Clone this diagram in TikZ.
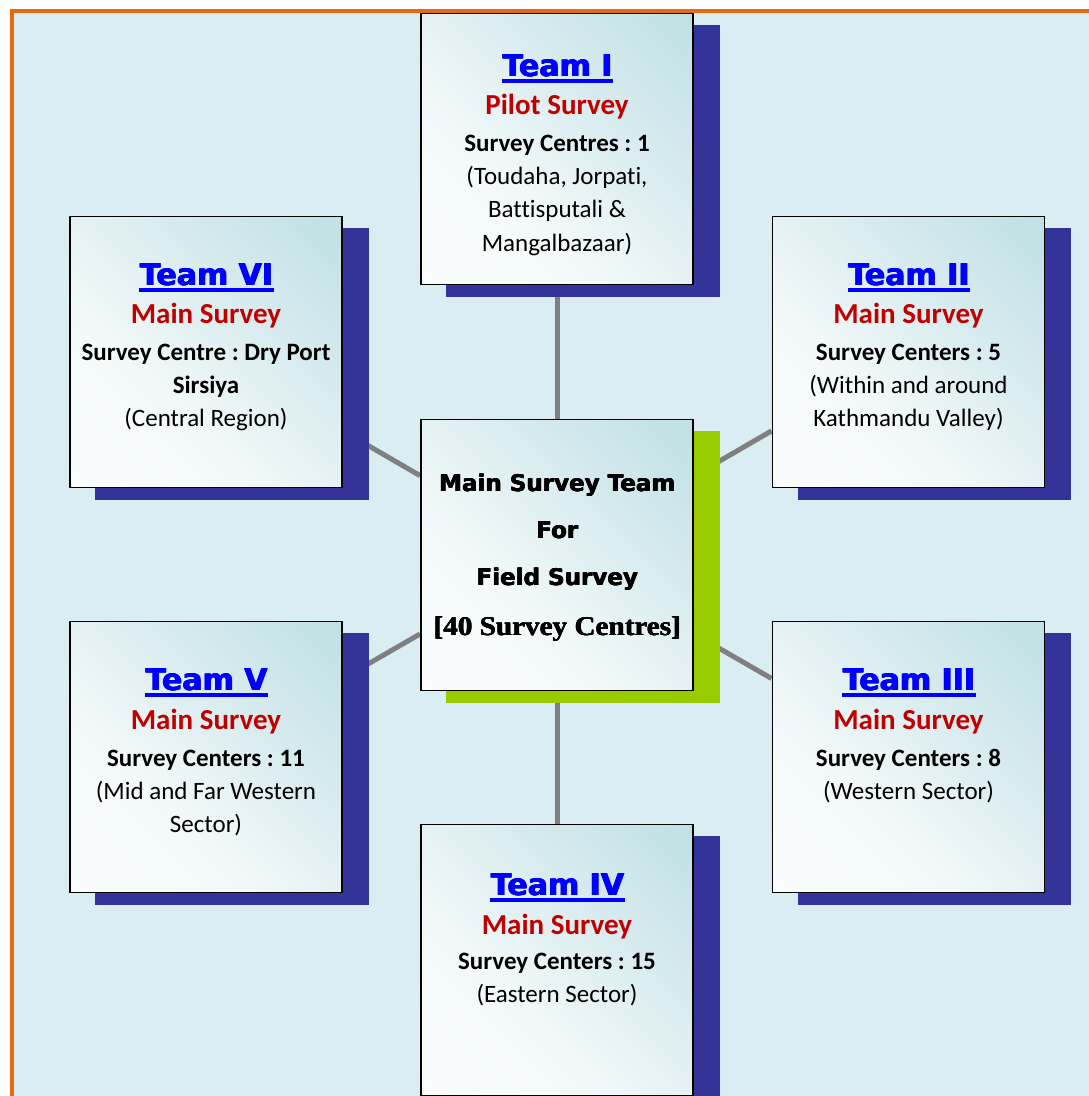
\documentclass[tikz,border=0pt]{standalone}
\usepackage{fontspec}
\setmainfont{Carlito}[Ligatures=NoCommon]
\newfontfamily\dvb{DejaVu Sans Bold}
\newfontfamily\lserifb{Liberation Serif Bold}[FakeStretch=1.08]
\frenchspacing
\newcommand\heavytxt[2]{\leavevmode\rlap{\kern#1\hbox{#2}}\rlap{\kern0.5\dimexpr#1\relax\raise0.5\dimexpr#1\relax\hbox{#2}}\rlap{\kern0.5\dimexpr#1\relax\lower0.3\dimexpr#1\relax\hbox{#2}}#2}
\pgfdeclarelayer{bg}
\pgfdeclarelayer{shad}
\pgfsetlayers{bg,shad,main}
\definecolor{bgblue}{RGB}{218,237,243}
\definecolor{frameorange}{RGB}{228,108,10}
\definecolor{shadowblue}{RGB}{51,51,153}
\definecolor{shadowgreen}{RGB}{153,204,0}
\definecolor{linkgray}{RGB}{128,128,128}
\definecolor{tblue}{RGB}{0,0,255}
\definecolor{tred}{RGB}{192,0,0}
\definecolor{teal1}{RGB}{178,218,223}
\definecolor{teal2}{RGB}{192,225,229}
\definecolor{teal3}{RGB}{215,235,238}
\definecolor{teal4}{RGB}{243,249,250}
\pgfdeclareverticalshading{boxshade}{100bp}{color(0bp)=(white); color(38bp)=(teal4); color(62bp)=(teal3); color(84bp)=(teal2); color(100bp)=(teal1)}
\tikzset{
  box/.style={draw=black, line width=1.8pt, rectangle, minimum width=272pt, minimum height=271pt,
    shading=boxshade, shading angle=-45, inner sep=0pt},
  ln/.style={anchor=base, inner sep=0pt, outer sep=0pt},
  ttl/.style={ln, text=tblue, font=\dvb\fontsize{30}{36}\selectfont},
  sub/.style={ln, text=tred, font=\bfseries\fontsize{29}{35}\selectfont},
  bd/.style={ln, font=\bfseries\fontsize{25}{30}\selectfont},
  rg/.style={ln, font=\fontsize{25}{30}\selectfont},
  ctr/.style={ln, font=\dvb\fontsize{23}{27}\selectfont},
  ctrs/.style={ln, font=\lserifb\fontsize{27}{32}\selectfont},
  link/.style={draw=linkgray, line width=5pt},
  uline/.style={draw=tblue, line width=4pt},
}
\newcommand\shadowof[2]{%
  \begin{pgfonlayer}{shad}
  \fill[#2] ([xshift=26pt,yshift=-12pt]#1.south west) rectangle ([xshift=26pt,yshift=-12pt]#1.north east);
  \end{pgfonlayer}}
\newcommand\ulineof[1]{\draw[uline] ([yshift=-4pt]#1.base west) -- ([xshift=1pt,yshift=-4pt]#1.base east);}
\newcommand\ttlheavy[1]{\heavytxt{1.2pt}{#1}}
\newcommand\ctrheavy[1]{\heavytxt{0.7pt}{#1}}
\begin{document}
\begin{tikzpicture}[x=1pt,y=-1pt]
\useasboundingbox (0,0) rectangle (1088,1096);
\begin{pgfonlayer}{bg}
\fill[white] (0,0) rectangle (1088,1096);
\draw[frameorange, line width=4pt, fill=bgblue] (12,11) rectangle (1120,1120);
\end{pgfonlayer}

% boxes
\node[box] (t1) at (557,149) {};
\node[box] (t6) at (206,352) {};
\node[box] (t2) at (908.5,352) {};
\node[box] (c) at (557,555) {};
\node[box] (t5) at (206,757) {};
\node[box] (t3) at (908.5,757) {};
\node[box] (t4) at (557,960) {};

% shadows
\shadowof{t1}{shadowblue}
\shadowof{t6}{shadowblue}
\shadowof{t2}{shadowblue}
\shadowof{c}{shadowgreen}
\shadowof{t5}{shadowblue}
\shadowof{t3}{shadowblue}
\shadowof{t4}{shadowblue}

% connectors
\begin{pgfonlayer}{bg}
\draw[link] (c) -- (t1);
\draw[link] (c) -- (t2);
\draw[link] (c) -- (t3);
\draw[link] (c) -- (t4);
\draw[link] (c) -- (t5);
\draw[link] (c) -- (t6);
\end{pgfonlayer}

% Team I
\node[ttl] (t1a) at ([yshift=-64pt]t1.north) {\ttlheavy{Team I}};
\ulineof{t1a}
\node[sub] (t1b) at ([yshift=-102pt]t1.north) {Pilot Survey};
\node[bd]  (t1c) at ([yshift=-139pt]t1.north) {Survey Centres : 1};
\node[rg]  (t1d) at ([yshift=-172pt]t1.north) {(Toudaha, Jorpati,};
\node[rg]  (t1e) at ([yshift=-205pt]t1.north) {Battisputali \&};
\node[rg]  (t1f) at ([yshift=-239pt]t1.north) {Mangalbazaar)};

% Team VI
\node[ttl] (t6a) at ([yshift=-70pt]t6.north) {\ttlheavy{Team VI}};
\ulineof{t6a}
\node[sub] (t6b) at ([yshift=-108pt]t6.north) {Main Survey};
\node[bd]  (t6c) at ([yshift=-145pt]t6.north) {Survey Centre : Dry Port};
\node[bd]  (t6d) at ([yshift=-178pt]t6.north) {Sirsiya};
\node[rg]  (t6e) at ([yshift=-211pt]t6.north) {(Central Region)};

% Team II
\node[ttl] (t2a) at ([yshift=-70pt]t2.north) {\ttlheavy{Team II}};
\ulineof{t2a}
\node[sub] (t2b) at ([yshift=-108pt]t2.north) {Main Survey};
\node[bd]  (t2c) at ([yshift=-145pt]t2.north) {Survey Centers : 5};
\node[rg]  (t2d) at ([yshift=-178pt]t2.north) {(Within and around};
\node[rg]  (t2e) at ([yshift=-211pt]t2.north) {Kathmandu Valley)};

% Centre
\node[ctr]  (ca) at ([yshift=-73pt]c.north) {\ctrheavy{Main Survey Team}};
\node[ctr]  (cb) at ([yshift=-120pt]c.north) {\ctrheavy{For}};
\node[ctr]  (cc) at ([yshift=-167pt]c.north) {\ctrheavy{Field Survey}};
\node[ctrs] (cd) at ([yshift=-217pt]c.north) {\heavytxt{0.6pt}{[40 Survey Centres]}};

% Team V
\node[ttl] (t5a) at ([yshift=-70pt]t5.north) {\ttlheavy{Team V}};
\ulineof{t5a}
\node[sub] (t5b) at ([yshift=-109pt]t5.north) {Main Survey};
\node[bd]  (t5c) at ([yshift=-146pt]t5.north) {Survey Centers : 11};
\node[rg]  (t5d) at ([yshift=-179pt]t5.north) {(Mid and Far Western};
\node[rg]  (t5e) at ([yshift=-212pt]t5.north) {Sector)};

% Team III
\node[ttl] (t3a) at ([yshift=-70pt]t3.north) {\ttlheavy{Team III}};
\ulineof{t3a}
\node[sub] (t3b) at ([yshift=-109pt]t3.north) {Main Survey};
\node[bd]  (t3c) at ([yshift=-146pt]t3.north) {Survey Centers : 8};
\node[rg]  (t3d) at ([yshift=-179pt]t3.north) {(Western Sector)};

% Team IV
\node[ttl] (t4a) at ([yshift=-72pt]t4.north) {\ttlheavy{Team IV}};
\ulineof{t4a}
\node[sub] (t4b) at ([yshift=-111pt]t4.north) {Main Survey};
\node[bd]  (t4c) at ([yshift=-146pt]t4.north) {Survey Centers : 15};
\node[rg]  (t4d) at ([yshift=-179pt]t4.north) {(Eastern Sector)};
\end{tikzpicture}
\end{document}
